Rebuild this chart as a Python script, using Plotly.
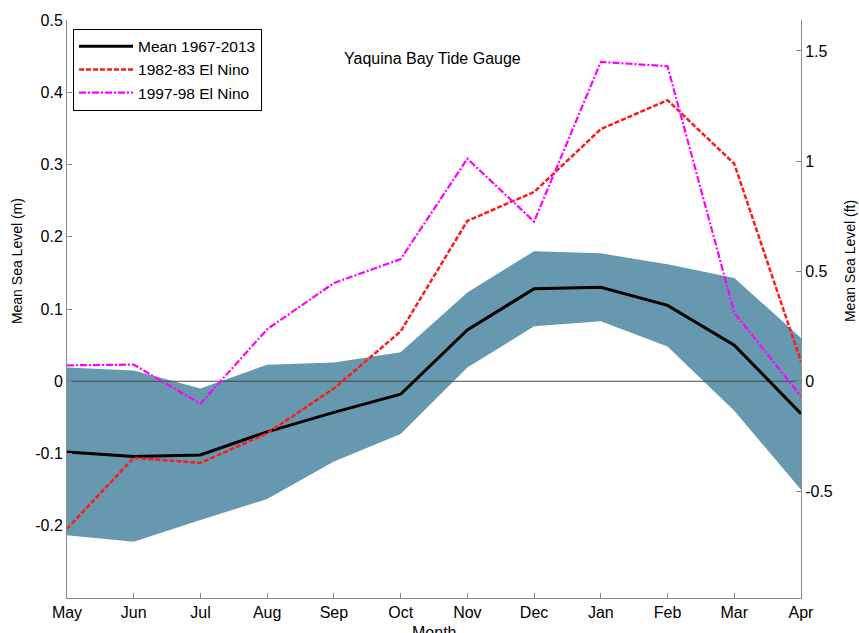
import plotly.graph_objects as go

months = ["May", "Jun", "Jul", "Aug", "Sep", "Oct", "Nov", "Dec", "Jan", "Feb", "Mar", "Apr"]
mean_1967_2013 = [-0.098, -0.104, -0.102, -0.070, -0.043, -0.018, 0.071, 0.128, 0.130, 0.105, 0.050, -0.045]
band_upper = [0.019, 0.015, -0.010, 0.023, 0.026, 0.040, 0.123, 0.180, 0.177, 0.162, 0.143, 0.060]
band_lower = [-0.213, -0.222, -0.192, -0.163, -0.111, -0.073, 0.019, 0.076, 0.083, 0.048, -0.041, -0.150]
nino_1982_83 = [-0.204, -0.106, -0.113, -0.072, -0.010, 0.069, 0.222, 0.262, 0.349, 0.389, 0.301, 0.027]
nino_1997_98 = [0.022, 0.023, -0.031, 0.072, 0.136, 0.169, 0.308, 0.221, 0.442, 0.436, 0.095, -0.021]
zero_line = [0, 0]

left_ticks = [0.5, 0.4, 0.3, 0.2, 0.1, 0, -0.1, -0.2]
right_ticks = [1.5, 1, 0.5, 0, -0.5]
M_TO_FT = 3.28084

x = list(range(len(months)))
FONT = "Liberation Sans, Arial, sans-serif"
AXIS_COL = "#8a8a8a"

fig = go.Figure()
fig.add_trace(go.Scatter(x=x, y=band_lower, mode="lines", line=dict(width=0, color="#6699B0"),
                         showlegend=False, hoverinfo="skip"))
fig.add_trace(go.Scatter(x=x, y=band_upper, mode="lines", line=dict(width=0, color="#6699B0"),
                         fill="tonexty", fillcolor="#6699B0", showlegend=False, hoverinfo="skip"))
fig.add_trace(go.Scatter(x=[x[0], x[-1]], y=zero_line, mode="lines",
                         line=dict(width=1, color="rgb(70,70,70)"), showlegend=False, hoverinfo="skip"))
fig.add_trace(go.Scatter(x=x, y=mean_1967_2013, mode="lines", name="Mean 1967-2013",
                         line=dict(width=3, color="black")))
fig.add_trace(go.Scatter(x=x, y=nino_1982_83, mode="lines", name="1982-83 El Nino",
                         line=dict(width=2.5, color="#ff1a1a", dash="5px,2px")))
fig.add_trace(go.Scatter(x=x, y=nino_1997_98, mode="lines", name="1997-98 El Nino",
                         line=dict(width=2.2, color="#ff00ff", dash="7px,2px,2px,2px")))
# invisible trace to anchor the right-hand (ft) axis
fig.add_trace(go.Scatter(x=x, y=[v * M_TO_FT for v in mean_1967_2013], yaxis="y2", mode="lines",
                         line=dict(width=0, color="rgba(0,0,0,0)"), showlegend=False, hoverinfo="skip"))

ymin, ymax = -0.3, 0.5
fig.update_layout(
    width=859, height=633,
    margin=dict(l=67, r=58, t=20, b=30),
    paper_bgcolor="white", plot_bgcolor="white",
    font=dict(family=FONT, size=16, color="black"),
    showlegend=True,
    legend=dict(x=0.0082, y=0.985, xanchor="left", yanchor="top", traceorder="normal",
                bgcolor="white", bordercolor="black", borderwidth=1,
                font=dict(family=FONT, size=15.5, color="black"),
                itemwidth=54, tracegroupgap=0),
    xaxis=dict(range=[0, 11], tickmode="array", tickvals=x, ticktext=months,
               ticks="inside", ticklen=5, tickcolor=AXIS_COL, showline=True, linecolor=AXIS_COL,
               linewidth=1, showgrid=False, zeroline=False, tickfont=dict(size=16), mirror=False),
    yaxis=dict(range=[ymin, ymax], tickmode="array", tickvals=left_ticks,
               ticktext=[f"{t:g}" for t in left_ticks],
               ticks="inside", ticklen=5, tickcolor=AXIS_COL, showline=True, linecolor=AXIS_COL,
               linewidth=1, showgrid=False, zeroline=False, tickfont=dict(size=16)),
    yaxis2=dict(range=[ymin * M_TO_FT, ymax * M_TO_FT], overlaying="y", side="right",
                tickmode="array", tickvals=right_ticks, ticktext=[f"{t:g}" for t in right_ticks],
                ticks="inside", ticklen=5, tickcolor=AXIS_COL, showline=True, linecolor=AXIS_COL,
                linewidth=1, showgrid=False, zeroline=False, tickfont=dict(size=16)),
    annotations=[
        dict(text="Yaquina Bay Tide Gauge", x=0.498, y=0.934, xref="paper", yref="paper",
             showarrow=False, font=dict(size=16, family=FONT), xanchor="center", yanchor="middle"),
        dict(text="Mean Sea Level (m)", x=-0.068, y=0.583, xref="paper", yref="paper",
             showarrow=False, textangle=-90, font=dict(size=14, family=FONT),
             xanchor="center", yanchor="middle"),
        dict(text="Mean Sea Level (ft)", x=1.0668, y=0.583, xref="paper", yref="paper",
             showarrow=False, textangle=-90, font=dict(size=14, family=FONT),
             xanchor="center", yanchor="middle"),
        dict(text="Month", x=0.5, y=-0.041, xref="paper", yref="paper",
             showarrow=False, font=dict(size=16, family=FONT), xanchor="center", yanchor="top"),
    ],
)

fig.write_html(
    "out.html",
    config={"displayModeBar": False},
    post_script="document.body.style.margin='0';document.body.style.overflow='hidden';",
)
